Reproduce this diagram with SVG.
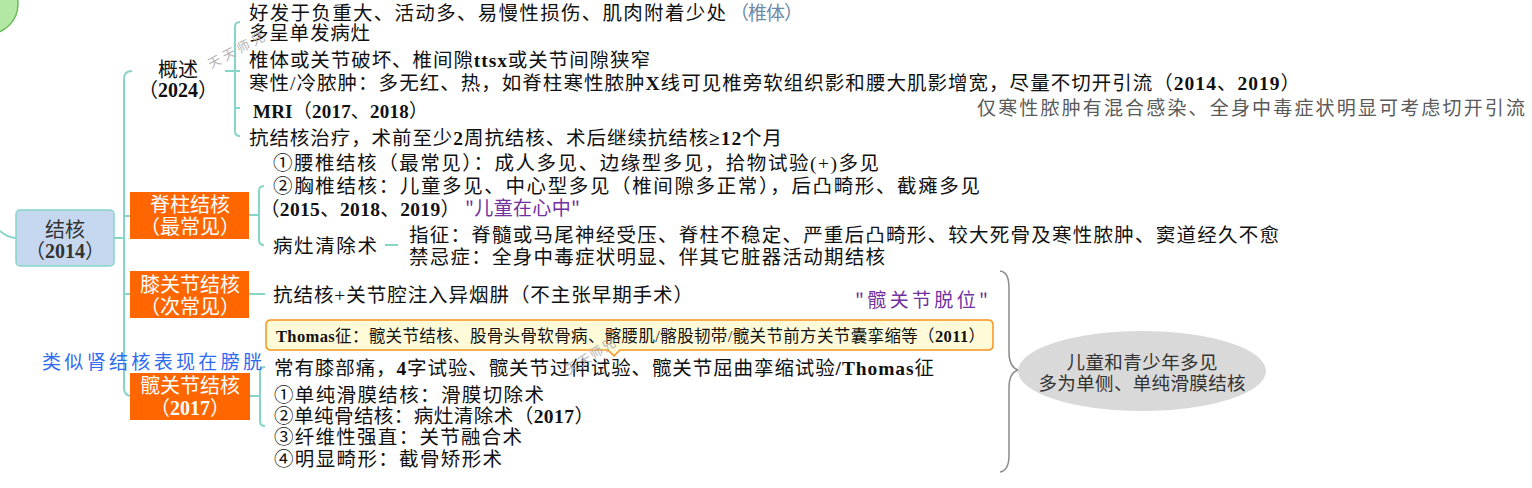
<svg xmlns="http://www.w3.org/2000/svg" width="1532" height="488" viewBox="0 0 1532 488">
<style>
.t{font-family:"Noto Sans CJK SC","Noto Sans CJK JP",sans-serif;font-size:19.5px;fill:#111}
.n{font-family:"Liberation Serif",serif;font-weight:700}
.r{font-family:"Liberation Serif",serif}
.c{text-anchor:middle}
.w{fill:#fff}
.con{fill:none;stroke:#86d5c8;stroke-width:2}
.box{fill:#ff6600}
.hand{font-family:"Noto Sans CJK SC",sans-serif;font-size:19px}
.wm{font-family:"Noto Sans CJK SC",sans-serif;font-size:13px;fill:#b4b4b4}
</style>
<rect width="1532" height="488" fill="#fff"/>
<g id="start-node"><circle cx="-12" cy="4" r="30" fill="#b4e6a4" stroke="#6abf5a" stroke-width="1.5"/></g>
<g id="connectors">
<path class="con" d="M0,231 Q8,238 16,238"/>
<path class="con" d="M114,238 H124"/>
<path class="con" d="M132,71 Q124,71 124,79 V388 Q124,396 132,396"/>
<path class="con" d="M124,216 H130 M124,294 H130"/>
<path class="con" d="M225,71 H235"/>
<path class="con" d="M240,22 Q235,22 235,27 V131 Q235,136 240,136 M235,71 H240 M235,108 H240"/>
<path class="con" d="M249,215 H259"/>
<path class="con" d="M264,186 Q259,186 259,191 V240 Q259,245 264,245"/>
<path class="con" d="M385,245 H398"/>
<path class="con" d="M249,294 H265"/>
<path class="con" d="M250,396 H260"/>
<path class="con" d="M265,367 Q260,367 260,372 V421 Q260,426 265,426"/>
<path d="M1000,271 C1008,272 1009,280 1009,290 L1009,352 C1009,362 1012,368 1018,370 C1012,372 1009,378 1009,388 L1009,455 C1009,465 1007,471 1000,472" fill="none" stroke="#8c8c8c" stroke-width="1.5"/>
</g>
<g id="root">
<rect x="16" y="210" width="98" height="56" rx="4" fill="#c5d8f0" stroke="#86d5c8" stroke-width="1.5"/>
<text class="t c" x="65" y="237" style="fill:#333;font-size:20px">结核</text>
<text class="t c" x="65" y="258" style="fill:#333;font-size:20px">（<tspan class="n">2014</tspan>）</text>
</g>
<g id="overview">
<text class="t c" x="178" y="77" style="font-size:20px">概述</text>
<text class="t c" x="178" y="97" style="font-size:20px">（<tspan class="n">2024</tspan>）</text>
</g>
<g id="ov-1">
<text class="t" x="249" y="20" textLength="477" lengthAdjust="spacing">好发于负重大、活动多、易慢性损伤、肌肉附着少处</text>
<text class="hand" x="730" y="20" textLength="73" lengthAdjust="spacing" fill="#6f8aa8">（椎体）</text>
<text class="t" x="249" y="40" textLength="121" lengthAdjust="spacing">多呈单发病灶</text>
</g>
<g id="ov-2">
<text class="t" x="249" y="67" textLength="401" lengthAdjust="spacing">椎体或关节破坏、椎间隙<tspan class="n">ttsx</tspan>或关节间隙狭窄</text>
<text class="t" x="249" y="90" textLength="1051" lengthAdjust="spacing">寒性<tspan class="r">/</tspan>冷脓肿：多无红、热，如脊柱寒性脓肿<tspan class="n">X</tspan>线可见椎旁软组织影和腰大肌影增宽，尽量不切开引流（<tspan class="n">2014</tspan>、<tspan class="n">2019</tspan>）</text>
</g>
<g id="ov-3"><text class="t" x="253" y="118" textLength="175" lengthAdjust="spacing" style="font-size:19px"><tspan class="n">MRI</tspan>（<tspan class="n">2017</tspan>、<tspan class="n">2018</tspan>）</text></g>
<g id="ov-4"><text class="t" x="249" y="145" textLength="533" lengthAdjust="spacing">抗结核治疗，术前至少<tspan class="n">2</tspan>周抗结核、术后继续抗结核<tspan class="n">≥12</tspan>个月</text></g>
<g id="note-drain"><text class="hand" x="977" y="115" textLength="548" lengthAdjust="spacing" fill="#5a5a5a">仅寒性脓肿有混合感染、全身中毒症状明显可考虑切开引流</text></g>
<g id="spine">
<rect class="box" x="130" y="192" width="119" height="47"/>
<text class="t c w" x="190" y="212" style="font-size:20px">脊柱结核</text>
<text class="t c w" x="190" y="234" style="font-size:20px">（最常见）</text>
</g>
<g id="spine-1">
<text class="t" x="273" y="170" textLength="606" lengthAdjust="spacing">①腰椎结核（最常见）：成人多见、边缘型多见，拾物试验<tspan class="r">(+)</tspan>多见</text>
<text class="t" x="273" y="193" textLength="707" lengthAdjust="spacing">②胸椎结核：儿童多见、中心型多见（椎间隙多正常），后凸畸形、截瘫多见</text>
<text class="t" x="260" y="216" textLength="200" lengthAdjust="spacing">（<tspan class="n">2015</tspan>、<tspan class="n">2018</tspan>、<tspan class="n">2019</tspan>）</text>
<text class="hand" x="465" y="215" textLength="115" lengthAdjust="spacing" fill="#7030a0">"儿童在心中"</text>
</g>
<g id="spine-2"><text class="t" x="273" y="253" textLength="104" lengthAdjust="spacing">病灶清除术</text></g>
<g id="spine-2-1">
<text class="t" x="409" y="242" textLength="870" lengthAdjust="spacing">指征：脊髓或马尾神经受压、脊柱不稳定、严重后凸畸形、较大死骨及寒性脓肿、窦道经久不愈</text>
<text class="t" x="409" y="264" textLength="476" lengthAdjust="spacing">禁忌症：全身中毒症状明显、伴其它脏器活动期结核</text>
</g>
<g id="knee">
<rect class="box" x="130" y="271" width="119" height="47"/>
<text class="t c w" x="190" y="292" style="font-size:20px">膝关节结核</text>
<text class="t c w" x="190" y="314" style="font-size:20px">（次常见）</text>
</g>
<g id="knee-1"><text class="t" x="273" y="302" textLength="420" lengthAdjust="spacing">抗结核<tspan class="r">+</tspan>关节腔注入异烟肼（不主张早期手术）</text></g>
<g id="note-hipdis"><text class="hand" x="855" y="307" textLength="133" lengthAdjust="spacing" fill="#7030a0">"髋关节脱位"</text></g>
<g id="thomas">
<path d="M271,320 H988 Q993,320 993,325 V345 Q993,350 988,350 H620 L614,356 L608,350 H271 Q266,350 266,345 V325 Q266,320 271,320 Z" fill="#fffbd8" stroke="#f7941d" stroke-width="1.5"/>
<text class="t" x="276" y="342" textLength="709" lengthAdjust="spacing" style="font-size:16.5px"><tspan class="n">Thomas</tspan>征：髋关节结核、股骨头骨软骨病、髂腰肌<tspan class="r">/</tspan>髂股韧带<tspan class="r">/</tspan>髋关节前方关节囊挛缩等（<tspan class="n">2011</tspan>）</text>
</g>
<g id="note-bladder"><text class="hand" x="42" y="369" textLength="220" lengthAdjust="spacing" fill="#2f6bf0">类似肾结核表现在膀胱</text></g>
<g id="hip">
<rect class="box" x="130" y="373" width="120" height="47"/>
<text class="t c w" x="190" y="393" style="font-size:20px">髋关节结核</text>
<text class="t c w" x="190" y="415" style="font-size:20px">（<tspan class="n">2017</tspan>）</text>
</g>
<g id="hip-1"><text class="t" x="274" y="375" textLength="660" lengthAdjust="spacing">常有膝部痛，<tspan class="n">4</tspan>字试验、髋关节过伸试验、髋关节屈曲挛缩试验<tspan class="n">/Thomas</tspan>征</text></g>
<g id="hip-2">
<text class="t" x="274" y="402" textLength="270" lengthAdjust="spacing">①单纯滑膜结核：滑膜切除术</text>
<text class="t" x="274" y="423" textLength="320" lengthAdjust="spacing">②单纯骨结核：病灶清除术（<tspan class="n">2017</tspan>）</text>
<text class="t" x="274" y="444" textLength="248" lengthAdjust="spacing">③纤维性强直：关节融合术</text>
<text class="t" x="274" y="466" textLength="228" lengthAdjust="spacing">④明显畸形：截骨矫形术</text>
</g>
<g id="summary">
<ellipse cx="1142" cy="371" rx="124" ry="40" fill="#d9d9d9"/>
<text class="t c" x="1142" y="369" textLength="151" lengthAdjust="spacing" style="font-size:18.5px;fill:#333">儿童和青少年多见</text>
<text class="t c" x="1142" y="390" textLength="207" lengthAdjust="spacing" style="font-size:18.5px;fill:#333">多为单侧、单纯滑膜结核</text>
</g>
<g id="watermarks">
<text class="wm" transform="translate(211,69) rotate(-28)" textLength="62" lengthAdjust="spacing">天天师兄</text>
<text class="wm" transform="translate(569,375) rotate(-32)" textLength="56" lengthAdjust="spacing">天天师兄</text>
</g>
</svg>
